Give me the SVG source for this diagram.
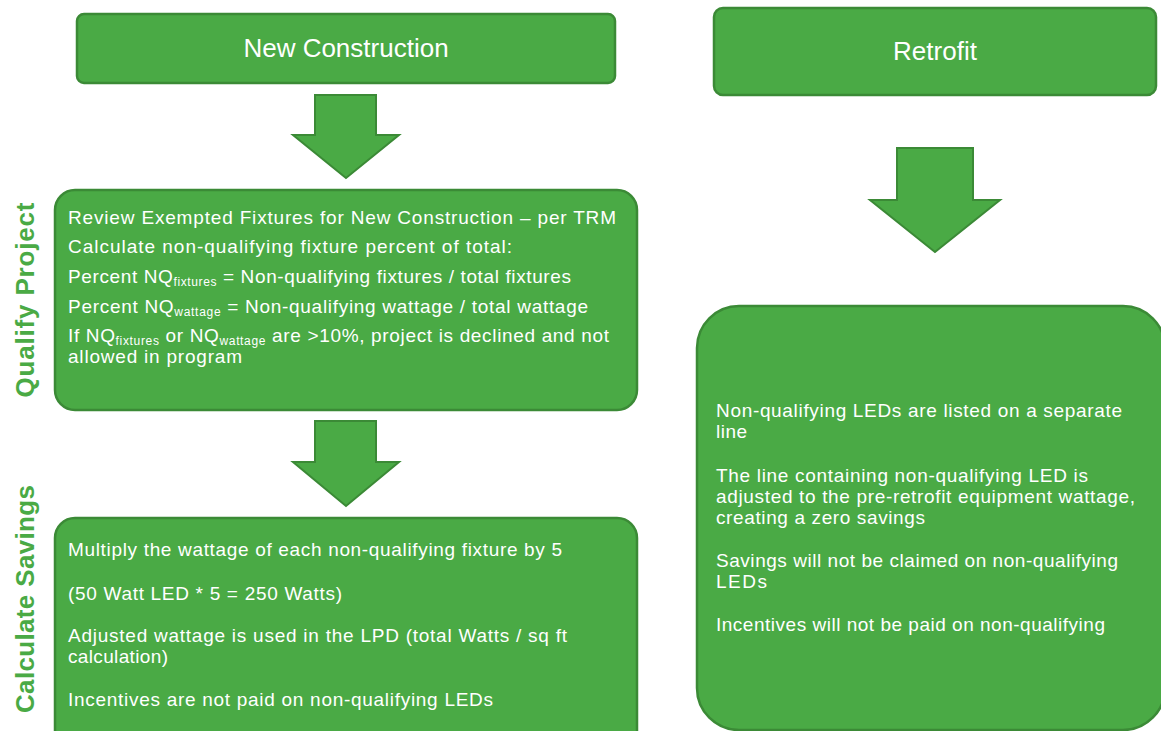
<svg xmlns="http://www.w3.org/2000/svg" width="1161" height="731" viewBox="0 0 1161 731">
<style>
.box{fill:#4aaa45;stroke:#3b8a36;stroke-width:2.5}
.arr{fill:#4aaa45;stroke:#3b8a36;stroke-width:2}
.t{font-family:"Liberation Sans",Arial,sans-serif;font-size:19px;fill:#ffffff}
.h{font-family:"Liberation Sans",Arial,sans-serif;font-size:26px;fill:#ffffff;text-anchor:middle}
.s{font-size:12px}
.v{font-family:"Liberation Sans",Arial,sans-serif;font-size:26px;font-weight:bold;fill:#4aaa45;text-anchor:middle}
</style>
<rect width="1161" height="731" fill="#ffffff"/>
<g id="new-construction">
<rect class="box" x="77" y="14" width="538" height="69" rx="7"/>
<text class="h" x="346" y="57">New Construction</text>
</g>
<g id="retrofit">
<rect class="box" x="714" y="8" width="442" height="87" rx="9"/>
<text class="h" x="935" y="60">Retrofit</text>
</g>
<g id="connectors">
<polygon class="arr" points="315,95 376,95 376,135 399,135 346,178 293,135 315,135"/>
<polygon class="arr" points="315,421 376,421 376,462 399,462 346,506 293,462 315,462"/>
<polygon class="arr" points="897,148 973,148 973,200 1000,200 935,252 870,200 897,200"/>
</g>
<g id="qualify-project">
<text class="v" transform="translate(34,300) rotate(-90)" textLength="195" lengthAdjust="spacing">Qualify Project</text>
<rect class="box" x="55" y="190" width="582" height="220" rx="20"/>
<text class="t" x="68" y="224" textLength="548" lengthAdjust="spacing">Review Exempted Fixtures for New Construction – per TRM</text>
<text class="t" x="68" y="253" textLength="444" lengthAdjust="spacing">Calculate non-qualifying fixture percent of total:</text>
<text class="t" x="68" y="283" textLength="503" lengthAdjust="spacing">Percent NQ<tspan class="s" dy="3">fixtures</tspan><tspan dy="-3"> = Non-qualifying fixtures / total fixtures</tspan></text>
<text class="t" x="68" y="313" textLength="520" lengthAdjust="spacing">Percent NQ<tspan class="s" dy="3">wattage</tspan><tspan dy="-3"> = Non-qualifying wattage / total wattage</tspan></text>
<text class="t" x="68" y="342" textLength="541" lengthAdjust="spacing">If NQ<tspan class="s" dy="3">fixtures</tspan><tspan dy="-3"> or NQ</tspan><tspan class="s" dy="3">wattage</tspan><tspan dy="-3"> are &gt;10%, project is declined and not</tspan></text>
<text class="t" x="68" y="363" textLength="174" lengthAdjust="spacing">allowed in program</text>
</g>
<g id="calculate-savings">
<text class="v" transform="translate(34,599) rotate(-90)" textLength="228" lengthAdjust="spacing">Calculate Savings</text>
<rect class="box" x="55" y="518" width="582" height="240" rx="20"/>
<text class="t" x="68" y="556" textLength="494" lengthAdjust="spacing">Multiply the wattage of each non-qualifying fixture by 5</text>
<text class="t" x="68" y="600" textLength="274" lengthAdjust="spacing">(50 Watt LED * 5 = 250 Watts)</text>
<text class="t" x="68" y="642" textLength="499" lengthAdjust="spacing">Adjusted wattage is used in the LPD (total Watts / sq ft</text>
<text class="t" x="68" y="663" textLength="100" lengthAdjust="spacing">calculation)</text>
<text class="t" x="68" y="706" textLength="425" lengthAdjust="spacing">Incentives are not paid on non-qualifying LEDs</text>
</g>
<g id="retrofit-details">
<rect class="box" x="697" y="306" width="468" height="424" rx="42"/>
<text class="t" x="716" y="417" textLength="406" lengthAdjust="spacing">Non-qualifying LEDs are listed on a separate</text>
<text class="t" x="716" y="438" textLength="31" lengthAdjust="spacing">line</text>
<text class="t" x="716" y="482" textLength="372" lengthAdjust="spacing">The line containing non-qualifying LED is</text>
<text class="t" x="716" y="503" textLength="419" lengthAdjust="spacing">adjusted to the pre-retrofit equipment wattage,</text>
<text class="t" x="716" y="524" textLength="209" lengthAdjust="spacing">creating a zero savings</text>
<text class="t" x="716" y="567" textLength="402" lengthAdjust="spacing">Savings will not be claimed on non-qualifying</text>
<text class="t" x="716" y="588" textLength="51" lengthAdjust="spacing">LEDs</text>
<text class="t" x="716" y="631" textLength="389" lengthAdjust="spacing">Incentives will not be paid on non-qualifying</text>
</g>
</svg>
